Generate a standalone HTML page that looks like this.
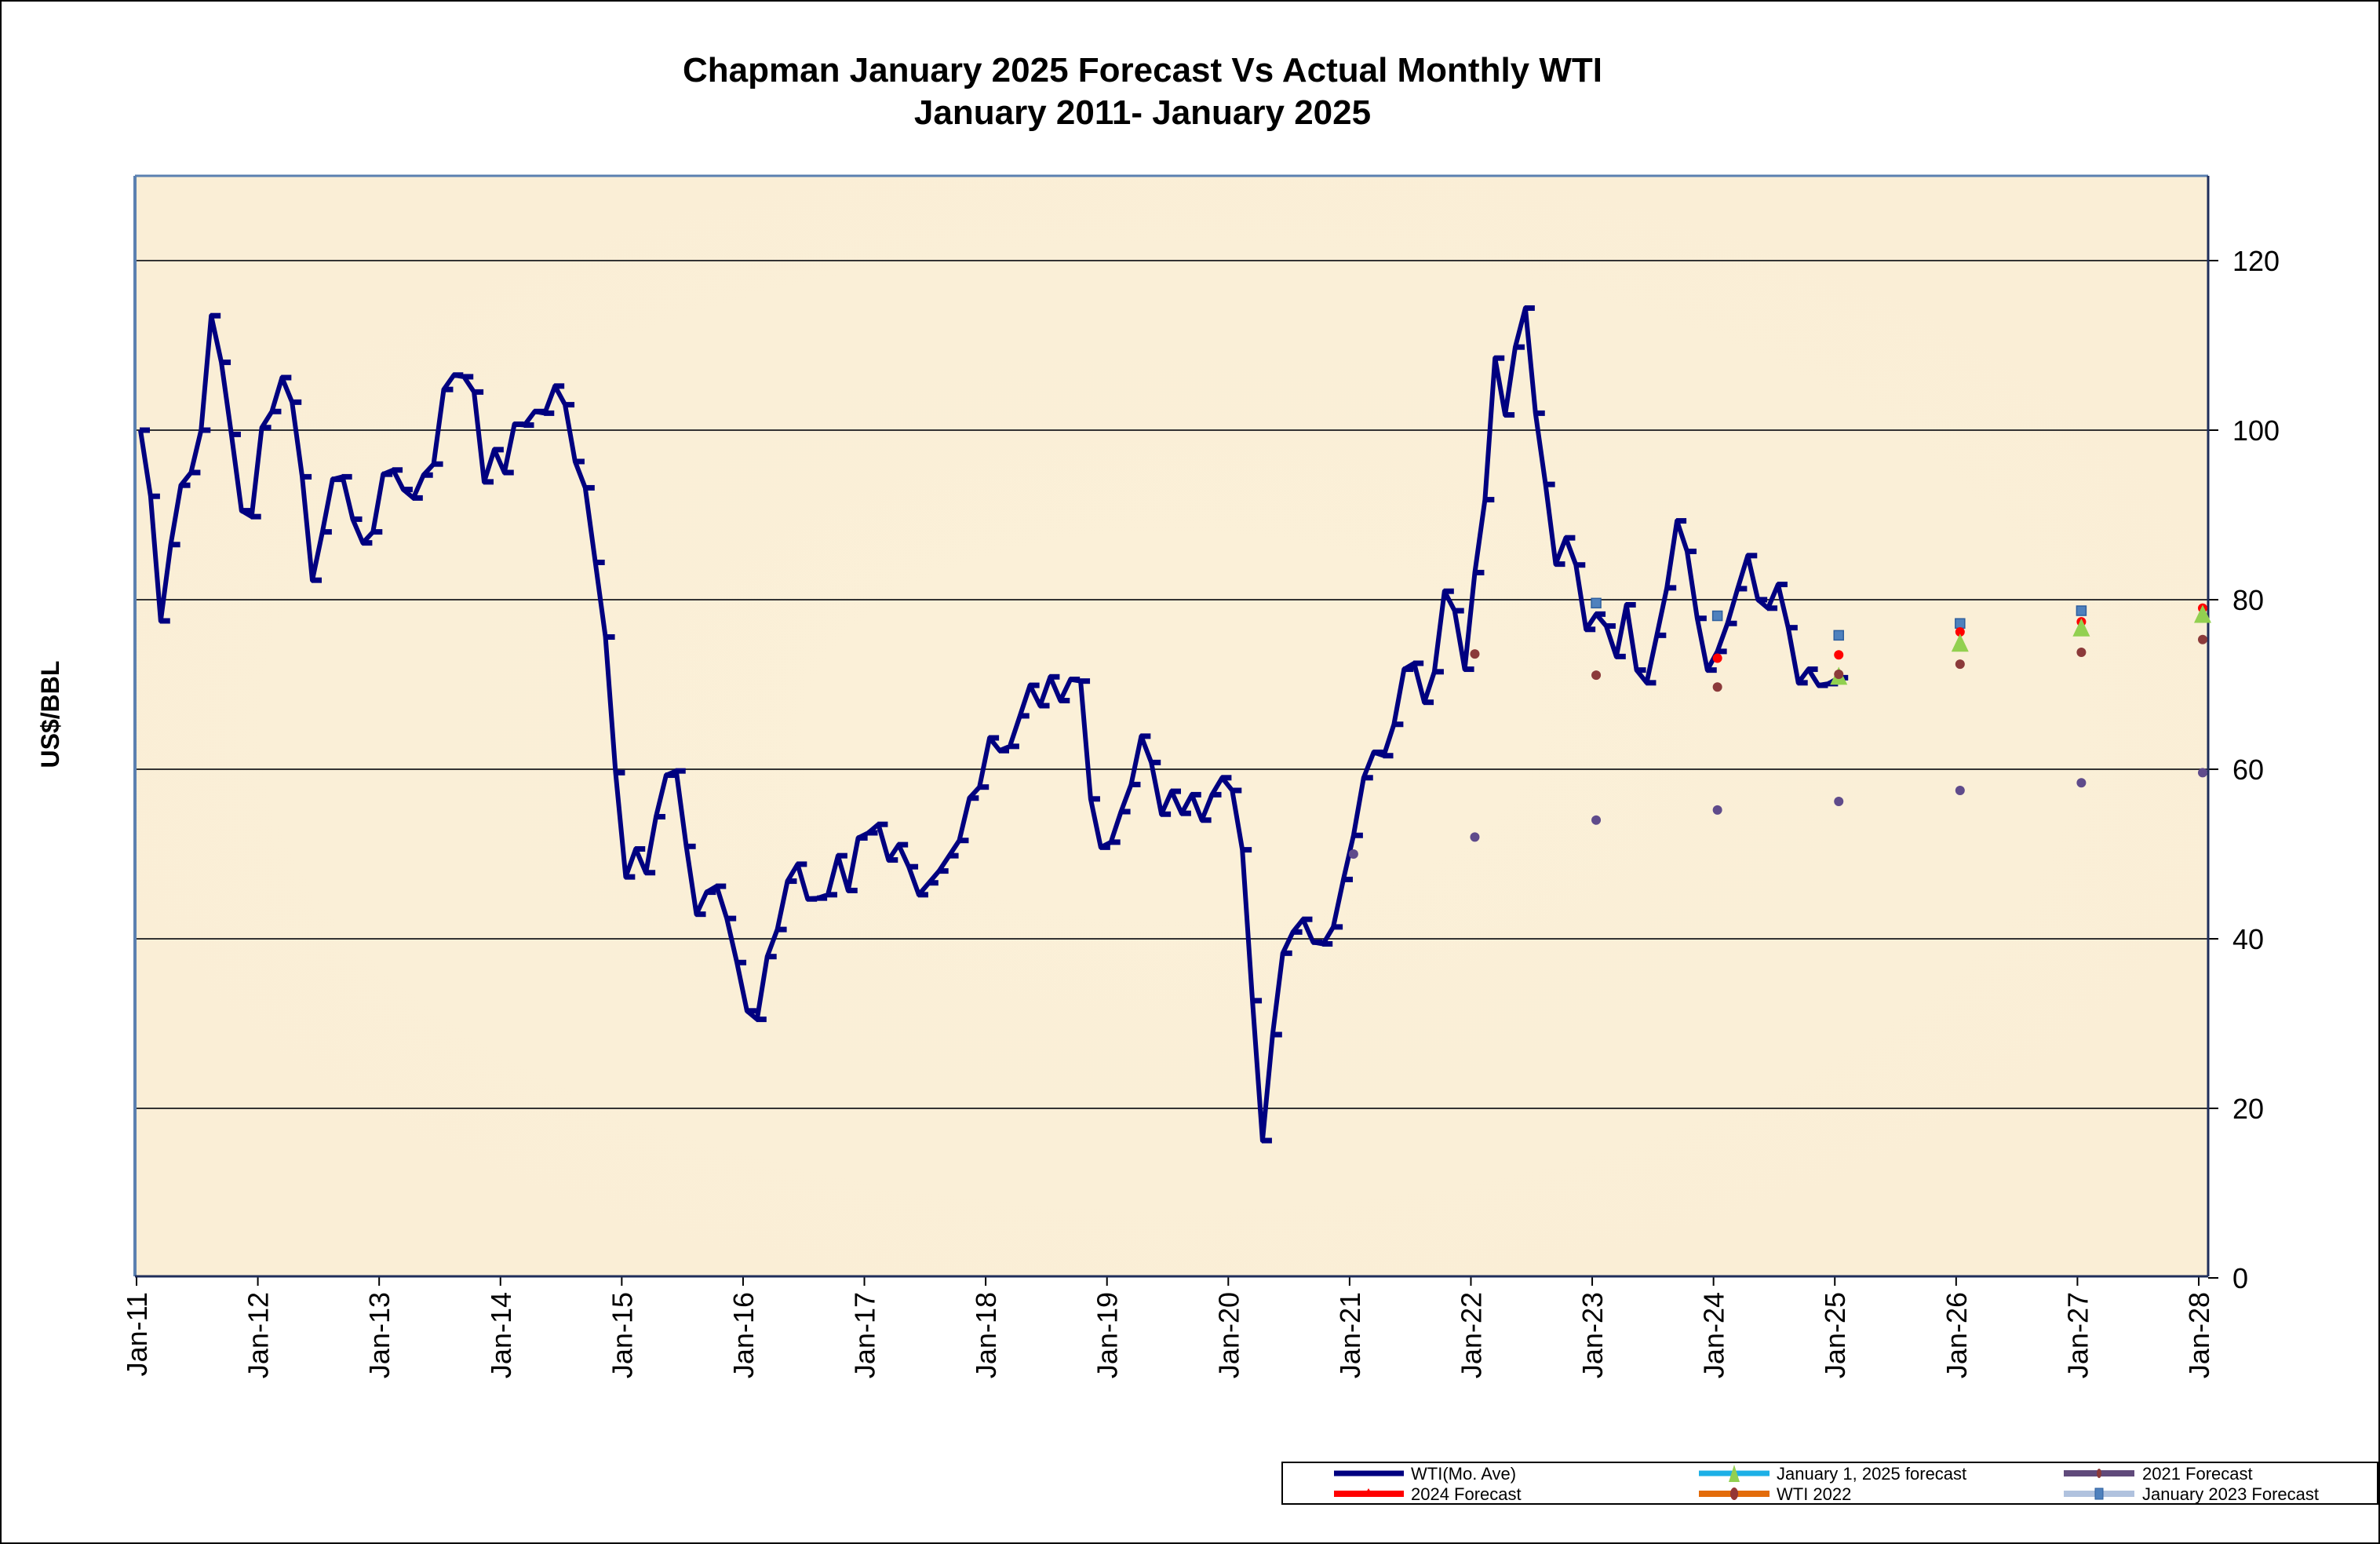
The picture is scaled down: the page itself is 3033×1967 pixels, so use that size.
<!DOCTYPE html>
<html><head><meta charset="utf-8"><style>
html,body{margin:0;padding:0;background:#fff}
svg{display:block}
text{font-family:"Liberation Sans",Arial,sans-serif}
</style></head><body>
<svg id="s" width="3033" height="1967" viewBox="0 0 3033 1967" xmlns="http://www.w3.org/2000/svg">
<defs>
<radialGradient id="bg" cx="50%" cy="50%" r="70%">
<stop offset="0" stop-color="#FBF0D8"/><stop offset="1" stop-color="#FAEED6"/>
</radialGradient>
</defs>
<rect x="1" y="1" width="3031" height="1965" fill="#fff" stroke="#000" stroke-width="2"/>
<text x="1456" y="104" font-size="44" font-weight="bold" text-anchor="middle">Chapman January 2025 Forecast Vs Actual Monthly WTI</text>
<text x="1456" y="158" font-size="44" font-weight="bold" text-anchor="middle">January 2011- January 2025</text>
<rect x="172" y="224" width="2642" height="1402" fill="url(#bg)"/>
<g id="grid" stroke="#333" stroke-width="2"></g>
<g id="ax"></g>
<line x1="172" y1="224" x2="2814" y2="224" stroke="#5B80B0" stroke-width="3"/>
<line x1="172" y1="224" x2="172" y2="1626" stroke="#5B80B0" stroke-width="4"/>
<line x1="2814" y1="224" x2="2814" y2="1626" stroke="#1F2D5A" stroke-width="3"/>
<line x1="172" y1="1626" x2="2814" y2="1626" stroke="#1F2D5A" stroke-width="3"/>
<g id="data"></g>
<text transform="translate(75,910) rotate(-90)" font-size="32" font-weight="bold" text-anchor="middle">US$/BBL</text>
<rect x="1634" y="1863" width="1396" height="53" fill="#fff" stroke="#000" stroke-width="2"/>
<g font-size="22">
<line x1="1700" y1="1877" x2="1789" y2="1877" stroke="#000080" stroke-width="7"/>
<text x="1798" y="1885">WTI(Mo. Ave)</text>
<line x1="1700" y1="1903" x2="1789" y2="1903" stroke="#FF0000" stroke-width="8"/>
<polygon points="1744,1896 1738,1906 1750,1906" fill="#f00"/>
<text x="1798" y="1911">2024 Forecast</text>
<line x1="2165" y1="1877" x2="2255" y2="1877" stroke="#1CB0E6" stroke-width="7"/>
<polygon points="2210,1866 2203,1888 2217,1888" fill="#92D050"/>
<text x="2264" y="1885">January 1, 2025 forecast</text>
<line x1="2165" y1="1903" x2="2255" y2="1903" stroke="#E36C0A" stroke-width="8"/>
<ellipse cx="2210" cy="1903" rx="5" ry="8" fill="#953735"/>
<text x="2264" y="1911">WTI 2022</text>
<line x1="2630" y1="1877" x2="2720" y2="1877" stroke="#604A7B" stroke-width="8"/>
<ellipse cx="2675" cy="1877" rx="3" ry="6" fill="#8B3A3A"/>
<text x="2730" y="1885">2021 Forecast</text>
<line x1="2630" y1="1903" x2="2720" y2="1903" stroke="#B0C2DE" stroke-width="8"/>
<rect x="2670" y="1896" width="10" height="14" fill="#4F81BD" stroke="#2E5F9E"/>
<text x="2730" y="1911">January 2023 Forecast</text>
</g>
</svg>
<script>
var NS="http://www.w3.org/2000/svg";
function el(p,t,a,txt){var e=document.createElementNS(NS,t);for(var k in a)e.setAttribute(k,a[k]);if(txt!==undefined)e.textContent=txt;p.appendChild(e);return e;}
var X0=174,MX=(2802-174)/204,Y0=1628,YS=10.8,DX=5;
function X(m){return X0+m*MX;}function Y(v){return Y0-v*YS;}
function XD(m){return X(m)+DX;}
var g=document.getElementById('grid'),ax=document.getElementById('ax'),d=document.getElementById('data');
for(var v=20;v<=120;v+=20){el(g,'line',{x1:172,x2:2814,y1:Y(v),y2:Y(v)});}
for(var v=0;v<=120;v+=20){el(ax,'line',{x1:2814,x2:2827,y1:Y(v),y2:Y(v),stroke:'#000','stroke-width':2});
el(ax,'text',{x:2845,y:Y(v)+13,'font-size':36},String(v));}
for(var yr=11;yr<=28;yr++){var x=X((yr-11)*12);
el(ax,'line',{x1:x,x2:x,y1:1626,y2:1638,stroke:'#000','stroke-width':2});
el(ax,'text',{transform:'translate('+(x+13)+',1646) rotate(-90)','font-size':36,'text-anchor':'end'},'Jan-'+yr);}
var w=[100,92.2,77.5,86.5,93.5,95,100,113.5,108,99.5,90.5,89.8,
100.3,102.2,106.2,103.3,94.5,82.3,88,94.2,94.5,89.5,86.7,88,
94.8,95.3,93,92,94.7,96,104.8,106.5,106.3,104.5,93.9,97.7,
95,100.7,100.6,102.2,102,105.2,103,96.3,93.2,84.4,75.6,59.6,
47.3,50.6,47.8,54.4,59.3,59.8,50.9,42.9,45.5,46.2,42.4,37.2,
31.5,30.5,37.9,41.1,46.8,48.8,44.7,44.8,45.2,49.8,45.7,51.9,
52.5,53.5,49.3,51.1,48.5,45.2,46.6,48,49.8,51.6,56.6,57.9,
63.7,62.2,62.7,66.3,69.9,67.5,70.9,68.1,70.6,70.4,56.5,50.8,
51.4,55,58.2,63.9,60.8,54.7,57.4,54.8,57,54,57,59,
57.5,50.5,32.7,16.2,28.7,38.3,40.8,42.3,39.6,39.4,41.4,47,
52.2,59,62,61.6,65.3,71.8,72.5,67.9,71.5,81,78.7,71.8,
83.2,91.8,108.5,101.8,109.8,114.4,102,93.6,84.2,87.3,84.1,76.5,
78.3,76.9,73.3,79.4,71.7,70.2,75.8,81.4,89.3,85.7,77.8,71.7,
73.9,77.2,81.3,85.2,80,79,81.8,76.7,70.2,71.8,69.9,70.1,70.8];
var pts=w.map(function(v,i){return XD(i).toFixed(1)+','+Y(v).toFixed(1);}).join(' ');
el(d,'polyline',{points:pts,fill:'none',stroke:'#000080','stroke-width':6,'stroke-linejoin':'round'});
w.forEach(function(v,i){el(d,'line',{x1:XD(i)-1,x2:XD(i)+12,y1:Y(v),y2:Y(v),stroke:'#000080','stroke-width':7});});
function yrX(yr){return XD((yr-2011)*12);}
var purple=[[2021,50],[2022,52],[2023,54],[2024,55.2],[2025,56.2],[2026,57.5],[2027,58.4],[2028,59.6]];
var brown=[[2022,73.6],[2023,71.1],[2024,69.7],[2025,71.2],[2026,72.4],[2027,73.8],[2028,75.3]];
var blue=[[2023,79.6],[2024,78.1],[2025,75.8],[2026,77.2],[2027,78.7]];
var red=[[2024,73.1],[2025,73.5],[2026,76.2],[2027,77.4],[2028,79]];
var green=[[2025,70.8],[2026,74.7],[2027,76.5],[2028,78.1]];
purple.forEach(function(p){el(d,'circle',{cx:yrX(p[0]),cy:Y(p[1]),r:6,fill:'#5F4B8B'});});
blue.forEach(function(p){el(d,'rect',{x:yrX(p[0])-6,y:Y(p[1])-6,width:12,height:12,fill:'#4F81BD',stroke:'#2E5F9E','stroke-width':1.5});});
red.forEach(function(p){el(d,'circle',{cx:yrX(p[0]),cy:Y(p[1]),r:6,fill:'#FF0000'});});
green.forEach(function(p){var x=yrX(p[0]),y=Y(p[1]);el(d,'polygon',{points:x+','+(y-14)+' '+(x-11)+','+(y+9)+' '+(x+11)+','+(y+9),fill:'#92D050'});});
brown.forEach(function(p){el(d,'circle',{cx:yrX(p[0]),cy:Y(p[1]),r:6,fill:'#8B3A3A'});});
</script>
</body></html>
